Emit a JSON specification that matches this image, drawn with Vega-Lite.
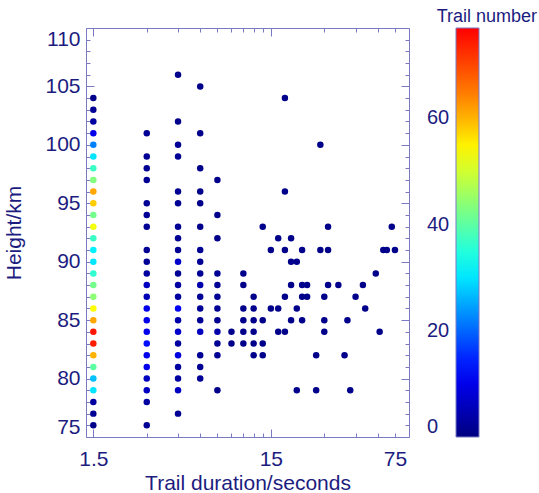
{
"$schema":"https://vega.github.io/schema/vega-lite/v6.json",
"width":323,"height":409,
"autosize":{"type":"none"},
"padding":{"left":86,"top":28,"right":130,"bottom":56},
"background":"white",
"title":{"text":"Trail number","anchor":"end","frame":"group","dx":128,"offset":2,"fontSize":18,"fontWeight":"normal","font":"Liberation Sans","color":"#1c1c80"},
"config":{"view":{"stroke":null},
 "axis":{"grid":false,"domainColor":"#7a7ac4","tickColor":"#7a7ac4","domainWidth":1,"tickWidth":1,"labelFont":"Liberation Sans","titleFont":"Liberation Sans","labelFontSize":21,"titleFontSize":21,"titleFontWeight":"normal","labelColor":"#1c1c80","titleColor":"#1c1c80"},
 "legend":{"labelFont":"Liberation Sans"}},
"data":{"values":[
{"d":1.5,"h":104,"n":1},{"d":1.5,"h":103,"n":2},{"d":1.5,"h":102,"n":3},{"d":1.5,"h":101,"n":10},{"d":1.5,"h":100,"n":22},{"d":1.5,"h":99,"n":30},{"d":1.5,"h":98,"n":37},{"d":1.5,"h":97,"n":43},{"d":1.5,"h":96,"n":61},{"d":1.5,"h":95,"n":58},{"d":1.5,"h":94,"n":42},{"d":1.5,"h":93,"n":53},{"d":1.5,"h":92,"n":37},{"d":1.5,"h":91,"n":31},{"d":1.5,"h":90,"n":30},{"d":1.5,"h":89,"n":36},{"d":1.5,"h":88,"n":42},{"d":1.5,"h":87,"n":44},{"d":1.5,"h":86,"n":54},{"d":1.5,"h":85,"n":61},{"d":1.5,"h":84,"n":75},{"d":1.5,"h":83,"n":74},{"d":1.5,"h":82,"n":60},{"d":1.5,"h":81,"n":40},{"d":1.5,"h":80,"n":27},{"d":1.5,"h":79,"n":30},{"d":1.5,"h":78,"n":3},{"d":1.5,"h":77,"n":2},{"d":1.5,"h":76,"n":1},
{"d":3,"h":101,"n":2},{"d":3,"h":99,"n":2},{"d":3,"h":98,"n":2},{"d":3,"h":97,"n":2},{"d":3,"h":95,"n":2},{"d":3,"h":94,"n":2},{"d":3,"h":93,"n":2},{"d":3,"h":91,"n":2},{"d":3,"h":90,"n":2},{"d":3,"h":89,"n":3},{"d":3,"h":88,"n":6},{"d":3,"h":87,"n":5},{"d":3,"h":86,"n":10},{"d":3,"h":85,"n":10},{"d":3,"h":84,"n":10},{"d":3,"h":83,"n":13},{"d":3,"h":82,"n":10},{"d":3,"h":81,"n":10},{"d":3,"h":80,"n":6},{"d":3,"h":79,"n":6},{"d":3,"h":78,"n":3},{"d":3,"h":76,"n":2},
{"d":4.5,"h":106,"n":1},{"d":4.5,"h":102,"n":1},{"d":4.5,"h":100,"n":2},{"d":4.5,"h":99,"n":2},{"d":4.5,"h":96,"n":2},{"d":4.5,"h":95,"n":2},{"d":4.5,"h":93,"n":2},{"d":4.5,"h":92,"n":2},{"d":4.5,"h":91,"n":2},{"d":4.5,"h":90,"n":7},{"d":4.5,"h":89,"n":2},{"d":4.5,"h":88,"n":3},{"d":4.5,"h":87,"n":3},{"d":4.5,"h":86,"n":11},{"d":4.5,"h":85,"n":4},{"d":4.5,"h":84,"n":7},{"d":4.5,"h":83,"n":3},{"d":4.5,"h":82,"n":9},{"d":4.5,"h":81,"n":3},{"d":4.5,"h":80,"n":3},{"d":4.5,"h":79,"n":6},{"d":4.5,"h":77,"n":2},
{"d":6,"h":105,"n":1},{"d":6,"h":101,"n":1},{"d":6,"h":98,"n":1},{"d":6,"h":96,"n":1},{"d":6,"h":95,"n":1},{"d":6,"h":93,"n":1},{"d":6,"h":91,"n":2},{"d":6,"h":90,"n":2},{"d":6,"h":89,"n":2},{"d":6,"h":88,"n":4},{"d":6,"h":87,"n":2},{"d":6,"h":86,"n":2},{"d":6,"h":85,"n":2},{"d":6,"h":84,"n":6},{"d":6,"h":82,"n":2},{"d":6,"h":81,"n":2},{"d":6,"h":80,"n":2},
{"d":7.5,"h":97,"n":1},{"d":7.5,"h":94,"n":1},{"d":7.5,"h":92,"n":1},{"d":7.5,"h":89,"n":2},{"d":7.5,"h":88,"n":2},{"d":7.5,"h":87,"n":2},{"d":7.5,"h":86,"n":2},{"d":7.5,"h":85,"n":2},{"d":7.5,"h":84,"n":4},{"d":7.5,"h":83,"n":2},{"d":7.5,"h":82,"n":2},{"d":7.5,"h":79,"n":1},
{"d":9,"h":84,"n":1},{"d":9,"h":83,"n":1},
{"d":10.5,"h":89,"n":1},{"d":10.5,"h":88,"n":1},{"d":10.5,"h":86,"n":1},{"d":10.5,"h":85,"n":1},{"d":10.5,"h":84,"n":1},{"d":10.5,"h":83,"n":1},
{"d":12,"h":87,"n":1},{"d":12,"h":86,"n":1},{"d":12,"h":85,"n":1},{"d":12,"h":84,"n":1},{"d":12,"h":83,"n":1},{"d":12,"h":82,"n":1},
{"d":13.5,"h":93,"n":1},{"d":13.5,"h":85,"n":1},{"d":13.5,"h":83,"n":1},{"d":13.5,"h":82,"n":1},
{"d":15,"h":91,"n":1},{"d":15,"h":86,"n":1},
{"d":16.5,"h":92,"n":1},{"d":16.5,"h":86,"n":1},{"d":16.5,"h":84,"n":1},
{"d":18,"h":104,"n":1},{"d":18,"h":96,"n":1},{"d":18,"h":91,"n":1},{"d":18,"h":87,"n":1},{"d":18,"h":84,"n":1},
{"d":19.5,"h":92,"n":1},{"d":19.5,"h":90,"n":1},{"d":19.5,"h":88,"n":1},{"d":19.5,"h":85,"n":1},
{"d":21,"h":90,"n":1},{"d":21,"h":86,"n":1},{"d":21,"h":79,"n":1},
{"d":22.5,"h":91,"n":1},{"d":22.5,"h":88,"n":1},{"d":22.5,"h":87,"n":1},{"d":22.5,"h":85,"n":1},
{"d":24,"h":88,"n":1},{"d":24,"h":87,"n":1},
{"d":27,"h":82,"n":1},{"d":27,"h":79,"n":1},
{"d":28.5,"h":100,"n":1},{"d":28.5,"h":91,"n":1},
{"d":30,"h":87,"n":1},{"d":30,"h":85,"n":1},{"d":30,"h":84,"n":1},
{"d":31.5,"h":93,"n":1},{"d":31.5,"h":91,"n":1},{"d":31.5,"h":88,"n":1},
{"d":36,"h":88,"n":1},{"d":39,"h":82,"n":1},{"d":40.5,"h":85,"n":1},{"d":42,"h":79,"n":1},{"d":45,"h":87,"n":1},{"d":49.5,"h":88,"n":1},{"d":51,"h":86,"n":1},{"d":58.5,"h":89,"n":1},{"d":61.5,"h":84,"n":1},{"d":64.5,"h":91,"n":1},{"d":67.5,"h":91,"n":1},{"d":72,"h":93,"n":1},{"d":75,"h":91,"n":1}
]},
"layer":[
{"mark":{"type":"point","filled":true,"size":42,"opacity":1,"strokeWidth":0},
 "encoding":{
  "x":{"field":"d","type":"quantitative","scale":{"type":"log","domain":[1.364,90],"nice":false},
   "axis":{"orient":"bottom","values":[1.5,15,75],"format":"~g","ticks":false,"labelPadding":11,"title":"Trail duration/seconds","titlePadding":3,"domain":true}},
  "y":{"field":"h","type":"quantitative","scale":{"domain":[75,110],"nice":false,"zero":false},
   "axis":{"orient":"left","values":[75,80,85,90,95,100,105,110],"tickSize":-8,"labelPadding":14,"labelFlush":true,"title":"Height/km","titlePadding":20,"domain":true}},
  "color":{"field":"n","type":"quantitative",
   "scale":{"domain":[0,12,22,32,43,54,62,77],"range":["#000080","#0000ff","#0080ff","#00ffff","#80ff80","#ffff00","#ff9900","#ff0000"],"interpolate":"rgb"},
   "legend":{"orient":"none","legendX":370,"legendY":0,"direction":"vertical","title":null,"gradientLength":409,"gradientThickness":23,"values":[0,20,40,60],"format":"\u2007>2d","labelOffset":-52,"labelFontSize":20,"labelColor":"#1c1c80","labelFont":"Liberation Sans","gradientStrokeColor":"#7a7ac4","gradientStrokeWidth":1,"padding":0}}}},
{"mark":{"type":"point","opacity":0},
 "encoding":{
  "x":{"field":"d","type":"quantitative","scale":{"type":"log","domain":[1.364,90],"nice":false},
   "axis":{"orient":"bottom","values":[1.5,15],"tickSize":-8,"labels":false,"domain":false,"title":null}},
  "y":{"field":"h","type":"quantitative","scale":{"domain":[75,110],"nice":false,"zero":false},
   "axis":{"orient":"left","values":[76,77,78,79,81,82,83,84,86,87,88,89,91,92,93,94,96,97,98,99,101,102,103,104,106,107,108,109],"tickSize":-4,"labels":false,"domain":false,"title":null}}}},
{"mark":{"type":"point","opacity":0},
 "encoding":{
  "x":{"field":"d","type":"quantitative","scale":{"type":"log","domain":[1.364,90],"nice":false},
   "axis":{"orient":"bottom","values":[3,4.5,6,7.5,9,10.5,12,13.5,30,45,60,75],"tickSize":-4,"labels":false,"domain":false,"title":null}},
  "y":{"field":"h","type":"quantitative","scale":{"domain":[75,110],"nice":false,"zero":false},
   "axis":{"orient":"right","values":[75,80,85,90,95,100,105,110],"tickSize":-8,"labels":false,"domain":true,"title":null}}}},
{"mark":{"type":"point","opacity":0},
 "encoding":{
  "x":{"field":"d","type":"quantitative","scale":{"type":"log","domain":[1.364,90],"nice":false},
   "axis":{"orient":"top","values":[1.5,15],"tickSize":-8,"labels":false,"domain":true,"title":null}},
  "y":{"field":"h","type":"quantitative","scale":{"domain":[75,110],"nice":false,"zero":false},
   "axis":{"orient":"right","values":[76,77,78,79,81,82,83,84,86,87,88,89,91,92,93,94,96,97,98,99,101,102,103,104,106,107,108,109],"tickSize":-4,"labels":false,"domain":false,"title":null}}}},
{"mark":{"type":"point","opacity":0},
 "encoding":{
  "x":{"field":"d","type":"quantitative","scale":{"type":"log","domain":[1.364,90],"nice":false},
   "axis":{"orient":"top","values":[3,4.5,6,7.5,9,10.5,12,13.5,30,45,60,75],"tickSize":-4,"labels":false,"domain":false,"title":null}},
  "y":{"field":"h","type":"quantitative","scale":{"domain":[75,110],"nice":false,"zero":false},"axis":null}}}
],
"resolve":{"axis":{"x":"independent","y":"independent"}}
}
